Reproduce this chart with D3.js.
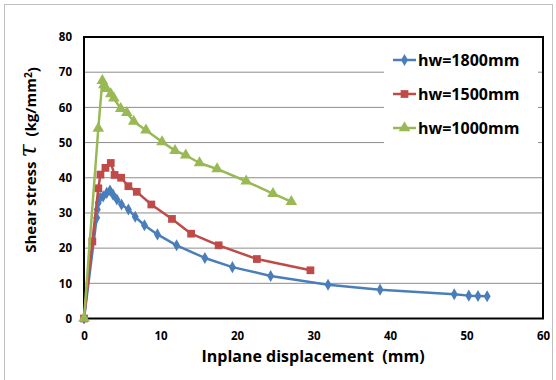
<!DOCTYPE html>
<html>
<head>
<meta charset="utf-8">
<script src="https://cdn.jsdelivr.net/npm/d3@7"></script>
<style>
    body { margin: 0; background: #fff; }
    svg text { font-family: "Open Sans", "Liberation Sans", sans-serif; font-weight: bold; fill: #000; white-space: pre; }
</style>
</head>
<body>
<div id="chart"></div>
<script>
// Series names
const seriesNames = ["hw=1800mm", "hw=1500mm", "hw=1000mm"];

// Inplane displacement (mm) and shear stress per series
const dispBlue = [0, 1.66, 1.74, 1.87, 2.1, 2.5, 2.97, 3.4, 3.8, 4.3, 4.9, 5.8, 6.7, 7.9, 9.6, 12.1, 15.8, 19.4, 24.4, 31.9, 38.7, 48.4, 50.3, 51.5, 52.7];
const stressBlue = [0, 28.6, 31.0, 32.9, 34.3, 34.7, 35.7, 36.4, 35.2, 33.8, 32.4, 31.0, 28.9, 26.5, 23.9, 20.8, 17.2, 14.6, 12.1, 9.6, 8.2, 6.9, 6.5, 6.4, 6.3];

const dispRed = [0, 1.09, 1.87, 2.15, 2.8, 3.5, 4.0, 4.85, 5.8, 6.9, 8.8, 11.5, 14.0, 17.6, 22.6, 29.6];
const stressRed = [0, 21.9, 37.0, 40.9, 42.8, 44.2, 40.8, 40.0, 37.6, 36.0, 32.4, 28.3, 24.1, 20.8, 16.9, 13.7];

const dispGreen = [0, 1.87, 2.4, 2.6, 2.9, 3.5, 3.9, 4.8, 5.6, 6.5, 8.1, 10.2, 11.9, 13.3, 15.1, 17.4, 21.2, 24.7, 27.1];
const stressGreen = [0, 54.0, 67.6, 66.4, 65.3, 63.8, 62.6, 59.6, 58.5, 56.0, 53.5, 50.2, 47.7, 46.4, 44.2, 42.5, 39.0, 35.5, 33.2];

// Tick labels
const xTicks = [0, 10, 20, 30, 40, 50, 60];
const yTicks = [0, 10, 20, 30, 40, 50, 60, 70, 80];

const colors = ["#4A7EBB", "#BE4B48", "#98B954"];
const symbols = [d3.symbolDiamond, d3.symbolSquare, d3.symbolTriangle];
const symbolSizes = [42, 60, 58];

const series = [
    { name: seriesNames[0], x: dispBlue, y: stressBlue },
    { name: seriesNames[1], x: dispRed, y: stressRed },
    { name: seriesNames[2], x: dispGreen, y: stressGreen }
].map(s => ({ name: s.name, points: s.x.map((v, i) => ({ x: v, y: s.y[i] })) }));

const width = 556, height = 380;
const plot = { left: 84, top: 37, right: 543, bottom: 318.5 };

const svg = d3.select("#chart").append("svg")
    .attr("width", width)
    .attr("height", height);

// Outer chart frame
svg.append("rect")
    .attr("x", 4.5).attr("y", 4.5)
    .attr("width", 548).attr("height", 390)
    .attr("fill", "none")
    .attr("stroke", "#bfbfbf");

const x = d3.scaleLinear().domain([0, 60]).range([plot.left, plot.right]);
const y = d3.scaleLinear().domain([0, 80]).range([plot.bottom, plot.top]);

// Gridlines
svg.append("g")
    .selectAll("line")
    .data(yTicks.slice(1, -1))
    .join("line")
    .attr("x1", plot.left).attr("x2", plot.right)
    .attr("y1", d => y(d)).attr("y2", d => y(d))
    .attr("stroke", "#8c8c8c")
    .attr("stroke-width", 1);

// Plot border
svg.append("rect")
    .attr("x", plot.left).attr("y", plot.top)
    .attr("width", plot.right - plot.left)
    .attr("height", plot.bottom - plot.top)
    .attr("fill", "none")
    .attr("stroke", "#000")
    .attr("stroke-width", 2);

// Axes (labels only)
const xAxis = svg.append("g")
    .attr("transform", `translate(0,${plot.bottom})`)
    .call(d3.axisBottom(x).tickValues(xTicks).tickSize(0).tickPadding(13));
xAxis.select(".domain").remove();
xAxis.selectAll("text").style("font-size", "11.5px");

const yAxis = svg.append("g")
    .attr("transform", `translate(${plot.left},0)`)
    .call(d3.axisLeft(y).tickValues(yTicks).tickSize(0).tickPadding(12));
yAxis.select(".domain").remove();
yAxis.selectAll("text").style("font-size", "11.5px");

// Legend box
const legend = svg.append("g");
legend.append("rect")
    .attr("x", 384).attr("y", 45)
    .attr("width", 154).attr("height", 102)
    .attr("fill", "#fff");

// Series lines and markers
const line = d3.line().x(d => x(d.x)).y(d => y(d.y));

series.forEach((s, i) => {
    const g = svg.append("g");
    g.append("path")
        .datum(s.points)
        .attr("d", line)
        .attr("fill", "none")
        .attr("stroke", colors[i])
        .attr("stroke-width", 2.5)
        .attr("stroke-linejoin", "round");
    g.selectAll("path.m")
        .data(s.points)
        .join("path")
        .attr("class", "m")
        .attr("transform", d => `translate(${x(d.x)},${y(d.y)})`)
        .attr("d", d3.symbol().type(symbols[i]).size(symbolSizes[i]))
        .attr("fill", colors[i]);

    // Legend entry
    const ly = 60 + i * 34;
    legend.append("line")
        .attr("x1", 393).attr("x2", 416)
        .attr("y1", ly).attr("y2", ly)
        .attr("stroke", colors[i])
        .attr("stroke-width", 2.5);
    legend.append("path")
        .attr("transform", `translate(404.5,${ly})`)
        .attr("d", d3.symbol().type(symbols[i]).size(symbolSizes[i]))
        .attr("fill", colors[i]);
    legend.append("text")
        .attr("x", 418).attr("y", ly)
        .attr("dy", "0.36em")
        .style("font-size", "16px")
        .text(s.name);
});

// X axis title
svg.append("text")
    .attr("x", 313).attr("y", 362)
    .attr("text-anchor", "middle")
    .style("font-size", "16px")
    .text("Inplane displacement  (mm)");

// Y axis title
const yTitle = svg.append("text")
    .attr("transform", "translate(36,160) rotate(-90)")
    .attr("text-anchor", "middle")
    .style("font-size", "15px");
yTitle.append("tspan").text("Shear stress ");
yTitle.append("tspan")
    .style("font-family", "'DejaVu Serif', serif")
    .style("font-style", "italic")
    .style("font-weight", "normal")
    .style("font-size", "24px")
    .text("τ");
yTitle.append("tspan").text("  (kg/mm");
yTitle.append("tspan").attr("dy", "-0.4em").style("font-size", "10px").text("2");
yTitle.append("tspan").attr("dy", "0.4em").text(")");
</script>
</body>
</html>
